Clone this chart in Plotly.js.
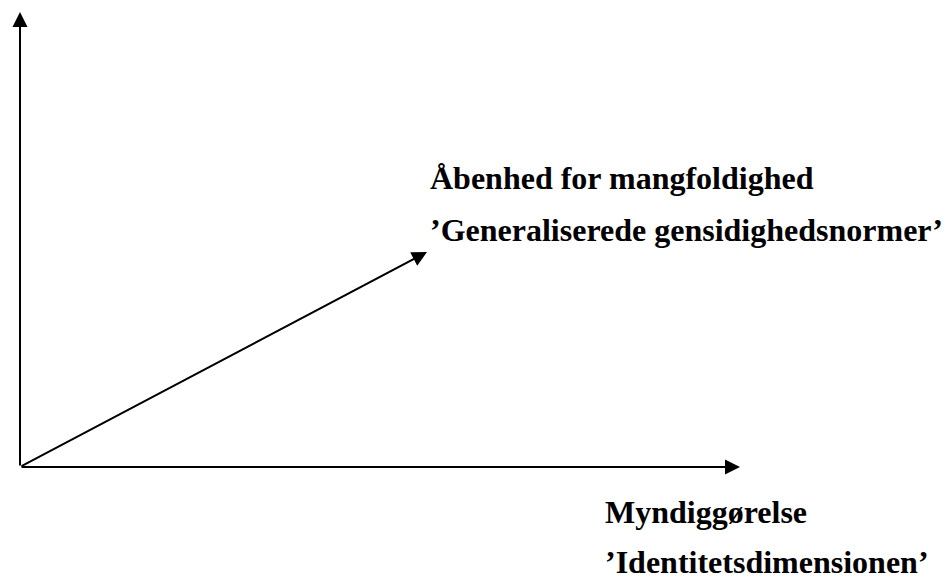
<!DOCTYPE html>
<html>
<head>
<meta charset="utf-8">
<script src="https://cdn.plot.ly/plotly-3.0.1.min.js"></script>
<style>html,body{margin:0;padding:0;background:#fff;}#chart{width:945px;height:577px;}</style>
</head>
<body>
<div id="chart"></div>
<script>
// Vectors from the origin (data units)
const vectorNames = ['vertical axis', 'horizontal axis', 'diagonal'];
const vectorX = [0, 720, 407];
const vectorY = [455, 0, 215];

// Labels
const labelText = ['Åbenhed for mangfoldighed', '’Generaliserede gensidighedsnormer’', 'Myndiggørelse', '’Identitetsdimensionen’'];
const labelX = [408, 408, 583, 583];
const labelY = [289, 237, -45, -95];

const annotations = [];
for (let i = 0; i < vectorNames.length; i++) {
  annotations.push({
    x: vectorX[i], y: vectorY[i], xref: 'x', yref: 'y',
    ax: 0, ay: 0, axref: 'x', ayref: 'y',
    text: '', showarrow: true, arrowhead: 2, arrowsize: 1.5, arrowwidth: 2, arrowcolor: '#000'
  });
}
for (let i = 0; i < labelText.length; i++) {
  annotations.push({
    x: labelX[i], y: labelY[i], xref: 'x', yref: 'y',
    text: '<b>' + labelText[i] + '</b>', showarrow: false,
    xanchor: 'left', yanchor: 'middle',
    font: {family: '"Liberation Serif", "Times New Roman", serif', size: 32, color: '#000'}
  });
}

const layout = {
  width: 945, height: 577,
  margin: {l: 0, r: 0, t: 0, b: 0, pad: 0},
  paper_bgcolor: '#fff', plot_bgcolor: '#fff',
  showlegend: false,
  xaxis: {range: [-20, 925], visible: false, fixedrange: true},
  yaxis: {range: [-110, 467], visible: false, fixedrange: true},
  annotations: annotations
};

Plotly.newPlot('chart', [{x: vectorX, y: vectorY, type: 'scatter', mode: 'markers', marker: {opacity: 0}, hoverinfo: 'skip', name: 'vectors'}], layout, {displayModeBar: false, staticPlot: true});
</script>
</body>
</html>
